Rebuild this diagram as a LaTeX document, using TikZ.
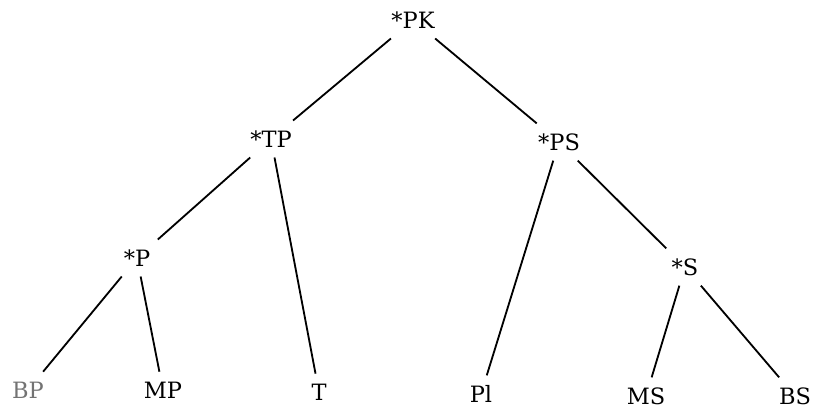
\documentclass[tikz,border=0pt]{standalone}
\usepackage{xcolor}
\usepackage{fontspec}
\setmainfont{DejaVu Serif}
\usepackage{tikz}

\begin{document}
\begin{tikzpicture}[x=0.025cm, y=-0.025cm,
    every node/.style={font=\fontsize{16}{19}\selectfont, inner sep=7pt},
    branch/.style={line width=1.3pt}]
    \useasboundingbox (0,0) rectangle (813,409);
    % upper levels
    \node (pk) at (413,20) {*PK};
    \node (tp) at (271,139) {*TP};
    \node (ps) at (559,142) {*PS};
    \node (p) at (137,258) {*P};
    \node (s) at (685,267) {*S};
    % leaves
    \node[text=black!55] (bp) at (28,390) {BP};
    \node (mp) at (163,390) {MP};
    \node (t) at (319,392) {T};
    \node (pl) at (481,394) {Pl};
    \node (ms) at (646,396) {MS};
    \node (bs) at (795,396) {BS};
    \draw[branch] (pk) -- (tp);
    \draw[branch] (pk) -- (ps);
    \draw[branch] (tp) -- (p);
    \draw[branch] (tp) -- (t);
    \draw[branch] (ps) -- (pl);
    \draw[branch] (ps) -- (s);
    \draw[branch] (p) -- (bp);
    \draw[branch] (p) -- (mp);
    \draw[branch] (s) -- (ms);
    \draw[branch] (s) -- (bs);
  \end{tikzpicture}
\end{document}
